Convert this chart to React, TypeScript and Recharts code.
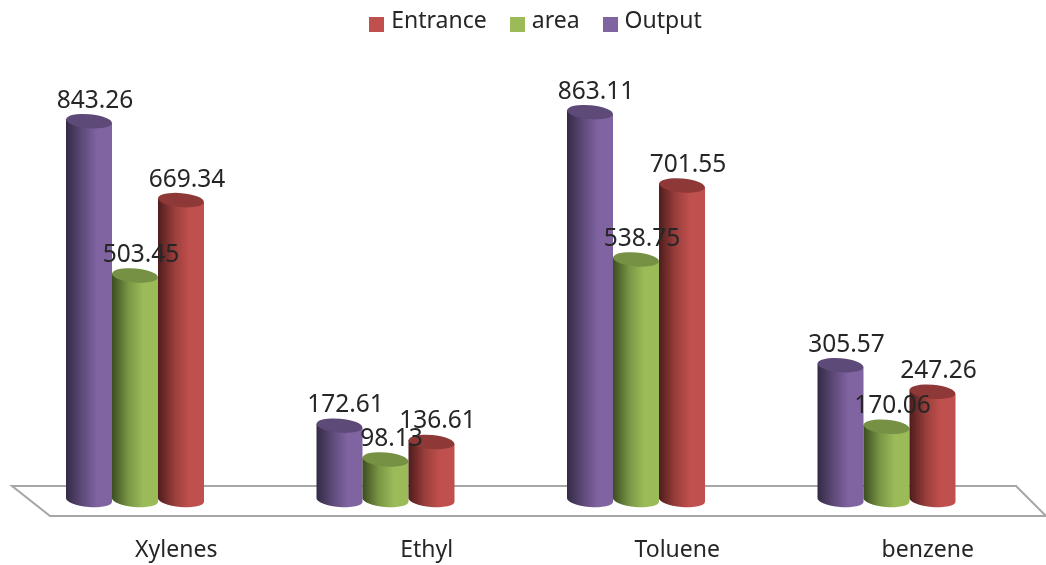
import { Bar, BarChart, LabelList, Legend, XAxis, YAxis } from "recharts";

const categories = ["Xylenes", "Ethyl", "Toluene", "benzene"];
const outputValues = [843.26, 172.61, 863.11, 305.57];
const areaValues = [503.45, 98.13, 538.75, 170.06];
const entranceValues = [669.34, 136.61, 701.55, 247.26];
const legendOrder = ["Entrance", "area", "Output"];

const chartData = categories.map((name, i) => ({
  name,
  output: outputValues[i],
  area: areaValues[i],
  entrance: entranceValues[i],
}));

const FONT = "'Noto Sans', sans-serif";
const TEXT_COLOR = "#262626";

// dark edge, mid shade, face colour and the darker lid of each cylinder
const palette = {
  output: { id: "cylOutput", fill: "#8064a2", edge: "#342a45", mid: "#5f4b7a", lid: "#5e4a79" },
  area: { id: "cylArea", fill: "#9bbb59", edge: "#3c4d20", mid: "#7a9745", lid: "#769143" },
  entrance: { id: "cylEntrance", fill: "#c0504d", edge: "#4e1d1c", mid: "#9a3e3c", lid: "#8e3937" },
};

function CylinderGradient({ id, edge, mid, fill }: { id: string; edge: string; mid: string; fill: string }) {
  return (
    <linearGradient id={id} x1="0" y1="0" x2="1" y2="0">
      <stop offset="0%" stopColor={edge} />
      <stop offset="36%" stopColor={mid} />
      <stop offset="68%" stopColor={fill} />
      <stop offset="100%" stopColor={fill} />
    </linearGradient>
  );
}

// Bar shape: a slightly tilted cylinder standing on the floor
function cylinder(colors: { id: string; lid: string }) {
  return (props: any) => {
    const { x, y, width, height } = props;
    const rx = width / 2;
    const ry = 7;
    const tilt = 2;
    const bottom = y + height - 4;
    const body = `M${x},${y - tilt} L${x},${bottom - tilt} A${rx},${ry} 5 0 0 ${x + width},${bottom + tilt} L${x + width},${y + tilt} Z`;
    return (
      <g>
        <path d={body} fill={`url(#${colors.id})`} />
        <ellipse
          cx={x + rx}
          cy={y}
          rx={rx}
          ry={ry}
          fill={colors.lid}
          transform={`rotate(5 ${x + rx} ${y})`}
        />
      </g>
    );
  };
}

function ValueLabel(props: any) {
  const { x, y, width, value } = props;
  return (
    <text
      x={x + width / 2 + 6}
      y={y - 23}
      textAnchor="middle"
      dominantBaseline="central"
      fontFamily={FONT}
      fontSize={24.5}
      fill={TEXT_COLOR}
    >
      {Number(value).toFixed(2)}
    </text>
  );
}

function CategoryTick(props: any) {
  const { x, y, payload } = props;
  return (
    <text
      x={x + 41}
      y={y + 38}
      textAnchor="middle"
      dominantBaseline="central"
      fontFamily={FONT}
      fontSize={23}
      fill={TEXT_COLOR}
    >
      {payload.value}
    </text>
  );
}

export default function App() {
  return (
    <div style={{ position: "fixed", left: 0, top: 0 }}>
      <BarChart
        width={1046}
        height={565}
        data={chartData}
        barSize={46}
        barGap={0}
        margin={{ top: 18, right: 34, bottom: 0, left: 10 }}
      >
        <defs>
          {Object.values(palette).map((c) => (
            <CylinderGradient key={c.id} id={c.id} edge={c.edge} mid={c.mid} fill={c.fill} />
          ))}
        </defs>
        {/* floor of the 3D plot */}
        <polygon
          points="12,486 1016,486 1046,516 50,516"
          fill="#ffffff"
          stroke="#a6a6a6"
          strokeWidth={2}
        />
        <XAxis
          dataKey="name"
          height={61}
          interval={0}
          axisLine={false}
          tickLine={false}
          tickMargin={0}
          tick={<CategoryTick />}
        />
        <YAxis hide domain={[0, 1000]} />
        <Legend
          verticalAlign="top"
          align="center"
          iconType="square"
          iconSize={15}
          wrapperStyle={{ top: 3, left: 46 }}
          itemSorter={(item: any) => legendOrder.indexOf(item.value)}
          formatter={(value: string) => (
            <span
              style={{
                color: TEXT_COLOR,
                fontFamily: FONT,
                fontSize: 23,
                marginLeft: 3,
                marginRight: 13,
              }}
            >
              {value}
            </span>
          )}
        />
        <Bar
          dataKey="output"
          name="Output"
          fill={palette.output.fill}
          shape={cylinder(palette.output)}
          isAnimationActive={false}
        >
          <LabelList dataKey="output" content={<ValueLabel />} />
        </Bar>
        <Bar
          dataKey="area"
          name="area"
          fill={palette.area.fill}
          shape={cylinder(palette.area)}
          isAnimationActive={false}
        >
          <LabelList dataKey="area" content={<ValueLabel />} />
        </Bar>
        <Bar
          dataKey="entrance"
          name="Entrance"
          fill={palette.entrance.fill}
          shape={cylinder(palette.entrance)}
          isAnimationActive={false}
        >
          <LabelList dataKey="entrance" content={<ValueLabel />} />
        </Bar>
      </BarChart>
    </div>
  );
}
